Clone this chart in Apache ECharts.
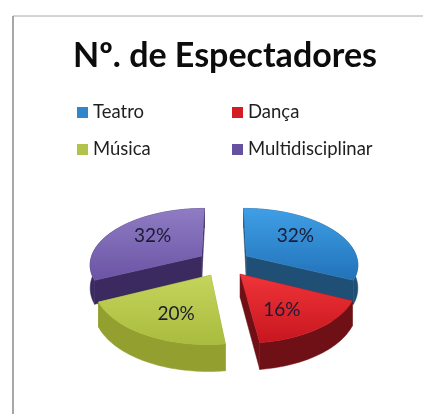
<!DOCTYPE html>
<html><head><meta charset="utf-8">
<style>html,body{margin:0;padding:0;background:#fff}#c{width:423px;height:414px}</style>
<script src="https://cdn.jsdelivr.net/npm/echarts@6/dist/echarts.min.js"></script>
</head><body><div id="c"></div>
<script>
var categories = ['Teatro', 'Dança', 'Música', 'Multidisciplinar'];
var spectatorShare = [32, 16, 20, 32];
var titleText = 'Nº. de Espectadores';

var topLight = ['#3f9fe6', '#f0343a', '#c5d45c', '#8f7cc4'];
var topDark = ['#2272b8', '#c8161e', '#a9bc3e', '#6a54a4'];
var wallColor = ['#204f76', '#6e1016', '#939f2e', '#3a2a60'];
var legendColor = ['#2f86cc', '#d41c24', '#b3c24a', '#6650a0'];
var layerOrder = [1, 3, 4, 0];

var CX = 224, CY = 263, RX = 112, RY = 56, K = 0.14, EXPLODE = 0.24, DEPTH = 23, LABEL_R = 0.56, LABEL_STRETCH = 1.18;
var total = spectatorShare.reduce(function (a, b) { return a + b; }, 0);

function project(u, v) {
  var p = 1 / (1 - K * v);
  return [CX + RX * u * p, CY + RY * v * p];
}
function drop(pt, v) { return [pt[0], pt[1] + DEPTH * (1 + K * v)]; }

function sliceRender(index) {
  return function (params, api) {
    var value = api.value(0);
    var before = 0;
    for (var i = 0; i < index; i++) before += spectatorShare[i];
    var a0 = before / total * Math.PI * 2;
    var a1 = (before + value) / total * Math.PI * 2;
    var mid = (a0 + a1) / 2;
    var ou = EXPLODE * Math.sin(mid), ov = -EXPLODE * Math.cos(mid);
    function at(r, a) { return [ou + r * Math.sin(a), ov - r * Math.cos(a)]; }
    var steps = 60, arc = [], lower = [];
    for (var s = 0; s <= steps; s++) {
      var c = at(1, a0 + (a1 - a0) * s / steps);
      var pt = project(c[0], c[1]);
      arc.push(pt);
      lower.push(drop(pt, c[1]));
    }
    var apexUV = at(0, 0);
    var apex = project(apexUV[0], apexUV[1]);
    var apexLow = drop(apex, apexUV[1]);
    var z = layerOrder[index];
    var kids = [];
    function poly(points, fill, zz) {
      kids.push({ type: 'polygon', shape: { points: points }, style: { fill: fill, stroke: fill, lineWidth: 0.5 }, z2: zz });
    }
    poly([apex, arc[0], lower[0], apexLow], wallColor[index], z * 10);
    poly([apex, arc[steps], lower[steps], apexLow], wallColor[index], z * 10 + 1);
    poly(arc.concat(lower.slice().reverse()), wallColor[index], z * 10 + 2);
    poly([apex].concat(arc), {
      type: 'linear', x: 0, y: 0, x2: 0, y2: 1,
      colorStops: [{ offset: 0, color: topLight[index] }, { offset: 1, color: topDark[index] }]
    }, z * 10 + 3);
    var lc = at(LABEL_R, mid);
    var lp = project(lc[0], lc[1]);
    kids.push({
      type: 'text', z2: 200,
      style: {
        x: lp[0], y: CY + (lp[1] - CY) * LABEL_STRETCH, text: value + '%', align: 'center', verticalAlign: 'middle',
        fill: '#1b1b33', font: '19px Lato'
      }
    });
    return { type: 'group', children: kids };
  };
}

var legendBase = {
  orient: 'vertical', icon: 'rect', itemWidth: 11, itemHeight: 11, itemGap: 18, top: 98,
  textStyle: { fontFamily: 'Lato', fontSize: 18.5, color: '#1f1f1f' }
};
var chart = echarts.init(document.getElementById('c'), null, { renderer: 'canvas' });
chart.setOption({
  animation: false,
  backgroundColor: '#ffffff',
  title: {
    text: titleText, left: 68, top: 34,
    textStyle: { fontFamily: 'Lato', fontWeight: 'bold', fontSize: 34, color: '#0c0c0c' }
  },
  legend: [
    Object.assign({}, legendBase, { left: 72, data: [categories[0], categories[2]] }),
    Object.assign({}, legendBase, { left: 227, data: [categories[1], categories[3]] })
  ],
  graphic: [
    { type: 'line', shape: { x1: 13, y1: 16, x2: 423, y2: 16 }, style: { stroke: '#a8a8a8', lineWidth: 1 } },
    { type: 'line', shape: { x1: 13, y1: 16, x2: 13, y2: 414 }, style: { stroke: '#8a8a8a', lineWidth: 1.5 } }
  ],
  series: categories.map(function (name, i) {
    return {
      type: 'custom', name: name, coordinateSystem: 'none',
      itemStyle: { color: legendColor[i] },
      z: layerOrder[i] + 2,
      data: [[spectatorShare[i]]],
      renderItem: sliceRender(i)
    };
  })
});
</script></body></html>
